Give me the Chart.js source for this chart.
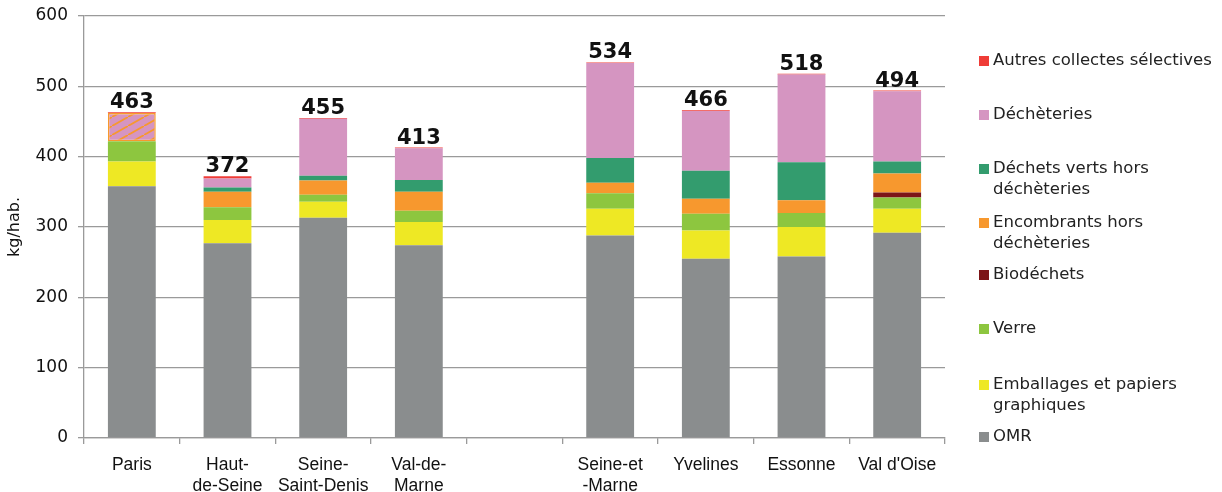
<!DOCTYPE html>
<html>
<head>
<meta charset="utf-8">
<script src="https://cdn.jsdelivr.net/npm/chart.js@4/dist/chart.umd.min.js"></script>
<style>
  html, body { margin: 0; padding: 0; background: #ffffff; }
  #wrap { position: relative; width: 1222px; height: 492px; }
</style>
</head>
<body>
<div id="wrap"><canvas id="c" width="1222" height="492"></canvas></div>
<script>
// Départements (multi-line labels), with an empty slot separating Paris + petite couronne from grande couronne
const categories = [['Paris'], ['Haut-', 'de-Seine'], ['Seine-', 'Saint-Denis'], ['Val-de-', 'Marne'], [''],
                    ['Seine-et', '-Marne'], ['Yvelines'], ['Essonne'], ["Val d'Oise"]];

// kg/hab. per flow (stack order, bottom to top)
const omr          = [358, 277, 313, 274, null, 288, 255, 258, 292];
const emballages   = [ 35,  33,  23,  33, null,  38,  40,  42,  34];
const verre        = [ 29,  18,  10,  16, null,  22,  24,  20,  16];
const biodechets   = [  0,   0,   0,   0, null,   0,   0,   0,   7];
// Paris: encombrants and déchèteries are reported together (hatched block)
const encombrants  = [ 40,  22,  20,  27, null,  15,  21,  18,  27];
const dechetsVerts = [  0,   6,   7,  17, null,  35,  40,  54,  17];
const decheteries  = [  0,  13,  81,  45, null, 135,  85, 125, 100];
const autres       = [  1,   3,   1,   1, null,   1,   1,   1,   1];

const yTicks = [0, 100, 200, 300, 400, 500, 600];

const seriesNames = {
  omr: 'OMR',
  emballages: ['Emballages et papiers', 'graphiques'],
  verre: 'Verre',
  biodechets: 'Biodéchets',
  encombrants: ['Encombrants hors', 'déchèteries'],
  dechetsVerts: ['Déchets verts hors', 'déchèteries'],
  decheteries: 'Déchèteries',
  autres: 'Autres collectes sélectives'
};

const colors = {
  omr: '#8a8d8e',
  emballages: '#eee824',
  verre: '#8dc63f',
  biodechets: '#7c1517',
  encombrants: '#f7982e',
  dechetsVerts: '#339c6e',
  decheteries: '#d595c1',
  autres: '#ef3c37'
};

// Hatched fill: pink ground with orange diagonal strokes
function makeHatch() {
  const t = document.createElement('canvas');
  t.width = 16; t.height = 9;
  const g = t.getContext('2d');
  g.fillStyle = colors.decheteries;
  g.fillRect(0, 0, 16, 9);
  g.strokeStyle = colors.encombrants;
  g.lineWidth = 1.8;
  g.beginPath();
  g.moveTo(-16, 18); g.lineTo(32, -9);
  g.stroke();
  return document.getElementById('c').getContext('2d').createPattern(t, 'repeat');
}
const hatch = makeHatch();

const stackKeys = ['omr', 'emballages', 'verre', 'biodechets', 'encombrants', 'dechetsVerts', 'decheteries', 'autres'];
const seriesData = { omr, emballages, verre, biodechets, encombrants, dechetsVerts, decheteries, autres };

const datasets = stackKeys.map(k => {
  const ds = {
    label: seriesNames[k],
    data: seriesData[k],
    backgroundColor: colors[k],
    borderWidth: 0,
    barPercentage: 0.5,
    categoryPercentage: 1.0,
    stack: 'all'
  };
  if (k === 'encombrants') {
    ds.backgroundColor = seriesData[k].map((v, i) => i === 0 ? hatch : colors[k]);
    ds.borderColor = colors.encombrants;
    ds.borderWidth = seriesData[k].map((v, i) => i === 0 ? 1.5 : 0);
    ds.borderSkipped = false;
  }
  return ds;
});

// Stack totals written above each bar
const totals = categories.map((c, i) => {
  let s = 0, any = false;
  stackKeys.forEach(k => { const v = seriesData[k][i]; if (v != null) { s += v; any = true; } });
  return any ? s : null;
});

const FONT = '"DejaVu Sans", sans-serif';
const XFONT = '"Liberation Sans", Arial, sans-serif';

const totalsPlugin = {
  id: 'totals',
  afterDatasetsDraw(chart) {
    const ctx = chart.ctx;
    const y = chart.scales.y, x = chart.scales.x;
    ctx.save();
    ctx.font = 'bold 21px ' + FONT;
    ctx.fillStyle = '#111';
    ctx.textAlign = 'center';
    ctx.textBaseline = 'alphabetic';
    totals.forEach((t, i) => {
      if (t == null) return;
      ctx.fillText(String(t), x.getPixelForValue(i), y.getPixelForValue(t) - 4);
    });
    ctx.restore();
  }
};

// Legend on the right, listed from top of stack to bottom
const legendRows = [
  { key: 'autres', y: 60 },
  { key: 'decheteries', y: 114 },
  { key: 'dechetsVerts', y: 168 },
  { key: 'encombrants', y: 222 },
  { key: 'biodechets', y: 274 },
  { key: 'verre', y: 328 },
  { key: 'emballages', y: 384 },
  { key: 'omr', y: 436 }
];
const legendPlugin = {
  id: 'sideLegend',
  afterDraw(chart) {
    const ctx = chart.ctx;
    ctx.save();
    ctx.font = '16.5px ' + FONT;
    ctx.textBaseline = 'middle';
    ctx.textAlign = 'left';
    legendRows.forEach(r => {
      ctx.fillStyle = colors[r.key];
      ctx.fillRect(979, r.y - 4, 10, 10);
      ctx.fillStyle = '#222';
      const lines = [].concat(seriesNames[r.key]);
      lines.forEach((ln, j) => ctx.fillText(ln, 993, r.y + 1 + j * 21));
    });
    ctx.restore();
  }
};

new Chart(document.getElementById('c'), {
  type: 'bar',
  data: { labels: categories, datasets },
  plugins: [totalsPlugin, legendPlugin],
  options: {
    responsive: false,
    animation: false,
    events: [],
    layout: { padding: { top: 16, right: 277, left: 0, bottom: 0 } },
    plugins: { legend: { display: false }, tooltip: { enabled: false } },
    scales: {
      x: {
        stacked: true,
        offset: true,
        grid: { display: true, drawOnChartArea: false, drawTicks: true, tickLength: 6, color: '#9a9a9a', lineWidth: 1.3, offset: true },
        border: { display: true, color: '#9a9a9a', width: 1.3 },
        ticks: { color: '#111', font: { family: XFONT, size: 17.5 }, padding: 11, maxRotation: 0, autoSkip: false },
        afterFit(s) { s.height = 54; }
      },
      y: {
        stacked: true,
        min: 0, max: 600,
        afterBuildTicks(s) { s.ticks = yTicks.map(v => ({ value: v })); },
        grid: { color: '#9a9a9a', lineWidth: 1.3, tickLength: 6 },
        border: { display: true, color: '#9a9a9a', width: 1.3 },
        ticks: { color: '#111', font: { family: FONT, size: 17 }, padding: 10 },
        title: { display: true, text: 'kg/hab.', color: '#111', font: { family: FONT, size: 16 }, padding: { top: 5, bottom: 0 } },
        afterFit(s) { s.width = 84; s.paddingTop = 0; s.paddingBottom = 0; }
      }
    }
  }
});
</script>
</body>
</html>
